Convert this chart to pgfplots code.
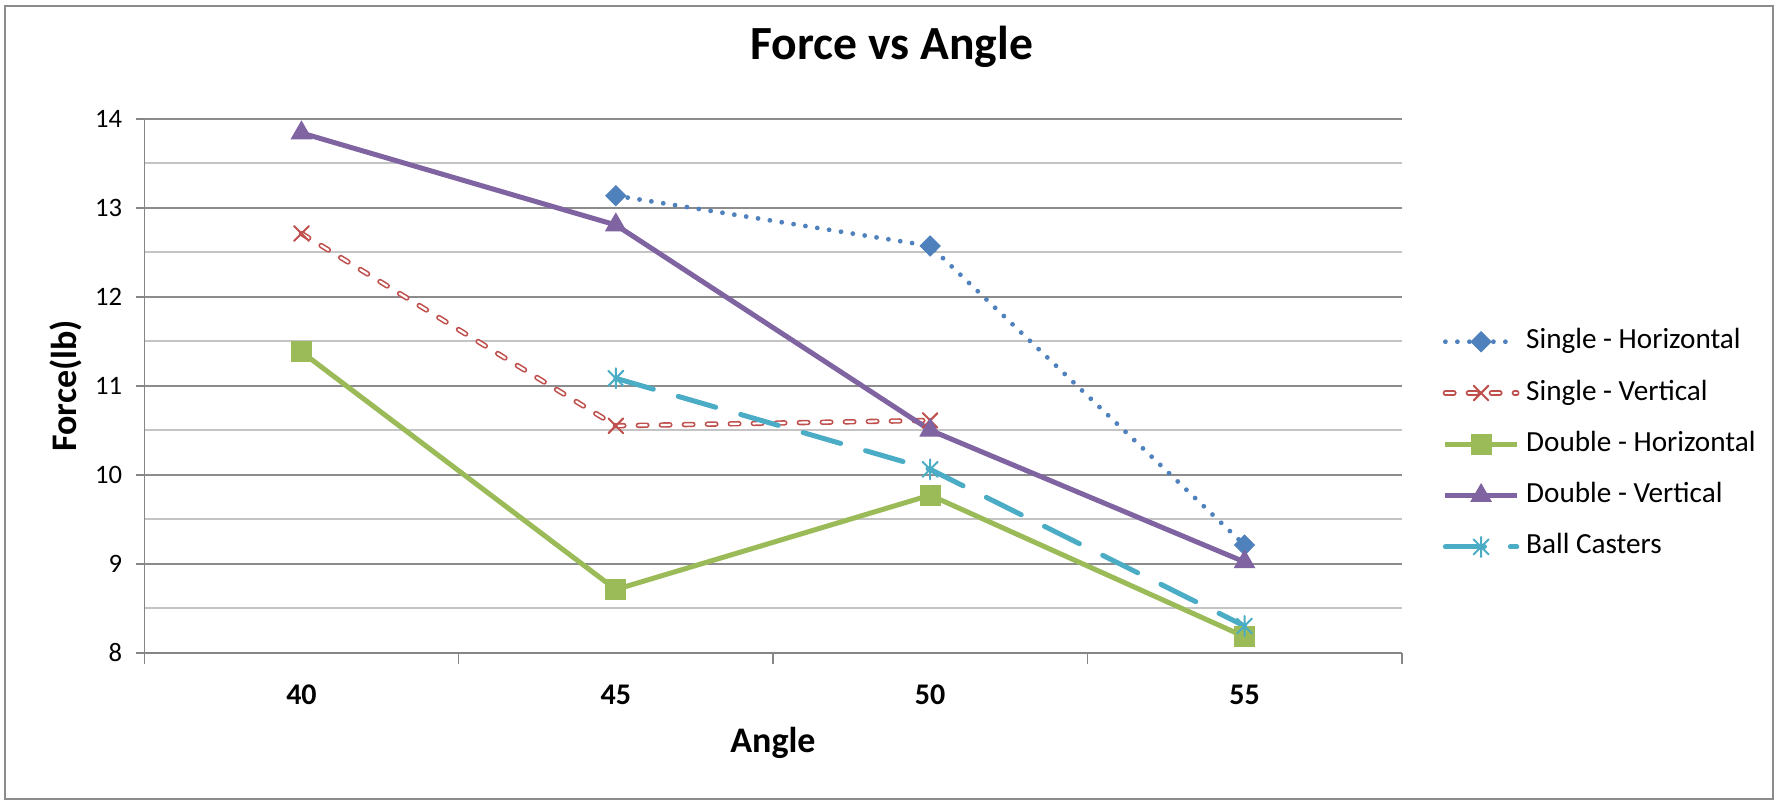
\documentclass[border=0pt]{standalone}
\usepackage{fontspec}
\setmainfont{Carlito}
\usepackage{pgfplots}
\pgfplotsset{compat=1.18}
\definecolor{sblue}{HTML}{4F81BD}
\definecolor{sred}{HTML}{C0504D}
\definecolor{sgreen}{HTML}{9BBB59}
\definecolor{spurple}{HTML}{8064A2}
\definecolor{saqua}{HTML}{4BACC6}
\definecolor{gridmaj}{HTML}{8C8C8C}
\definecolor{gridmin}{HTML}{C4C4C4}
\definecolor{axisgray}{HTML}{868686}
\definecolor{bordergray}{HTML}{8C8C8C}
\pgfdeclareplotmark{xstar}{%
  \pgfpathmoveto{\pgfqpoint{0pt}{\pgfplotmarksize}}%
  \pgfpathlineto{\pgfqpoint{0pt}{-\pgfplotmarksize}}%
  \pgfpathmoveto{\pgfqpoint{-.75\pgfplotmarksize}{-.75\pgfplotmarksize}}%
  \pgfpathlineto{\pgfqpoint{.75\pgfplotmarksize}{.75\pgfplotmarksize}}%
  \pgfpathmoveto{\pgfqpoint{-.75\pgfplotmarksize}{.75\pgfplotmarksize}}%
  \pgfpathlineto{\pgfqpoint{.75\pgfplotmarksize}{-.75\pgfplotmarksize}}%
  \pgfusepathqstroke}
\pgfplotsset{mylegend/.style={legend image code/.code={%
  \draw[mark repeat=2,mark phase=2] plot coordinates {(0pt,0pt) (17.85pt,0pt) (35.7pt,0pt)};}}}
\begin{document}
\begin{tikzpicture}
\useasboundingbox (0,0) rectangle (888.5pt,400pt);
\fill[white] (0,0) rectangle (888.5pt,400pt);
\draw[bordergray, line width=0.9pt] (2.5pt,0.5pt) rectangle (886.5pt,397pt);
\begin{axis}[
  at={(72.15pt,73.65pt)}, anchor=south west,
  scale only axis, width=628.7pt, height=267pt,
  xmin=-0.5, xmax=3.5, ymin=8, ymax=14,
  axis x line*=bottom, axis y line*=left,
  axis line style={axisgray, line width=0.8pt},
  tick style={axisgray, line width=0.8pt},
  tick align=outside,
  major tick length=4pt, minor tick length=5.5pt,
  xtick={0,1,2,3}, xticklabels={40,45,50,55},
  major x tick style={draw=none},
  minor xtick={-0.5,0.5,1.5,2.5,3.5},
  ytick={8,9,10,11,12,13,14}, minor y tick num=1,
  minor y tick style={draw=none},
  ymajorgrids, yminorgrids,
  major grid style={gridmaj, line width=0.8pt},
  minor grid style={gridmin, line width=0.8pt},
  /pgf/number format/assume math mode=true,
  yticklabel style={font=\fontsize{13.3}{16}\selectfont},
  yticklabel shift=3.6pt,
  xticklabel style={font=\bfseries\fontsize{15}{18}\selectfont, anchor=base, yshift=-22pt},
  title={Force vs Angle},
  title style={font=\bfseries\fontsize{23.8}{28}\selectfont, at={(axis description cs:0.5946,1.088)}, anchor=base},
  xlabel={Angle},
  xlabel style={font=\bfseries\fontsize{18}{22}\selectfont, at={(axis description cs:0.5,-0.1878)}, anchor=base},
  ylabel={Force(lb)},
  ylabel style={font=\bfseries\fontsize{18}{22}\selectfont, at={(axis description cs:-0.0543,0.5)}, anchor=base},
  legend cell align=left,
  legend style={draw=none, fill=none, inner sep=0pt, outer sep=0pt,
    at={(axis description cs:1.0326,0.6086)}, anchor=north west,
    font=\fontsize{14.6}{17}\selectfont, row sep=11.65pt, column sep=3.35pt,
    nodes={inner sep=0pt, text height=10.5pt, text depth=3.5pt}},
]
\addplot[mylegend, sblue, line width=2.4pt, line cap=round, dash pattern=on 0pt off 6pt,
  mark=diamond*, mark size=5pt, mark options={solid, fill=sblue, draw=sblue, line width=0.5pt, xscale=1.33}]
  coordinates {(1,13.135) (2,12.57) (3,9.21)};
\addlegendentry{Single - Horizontal}
\addplot[mylegend, sred, line width=0.8pt, double=white, double distance=1.1pt, line cap=round, dash pattern=on 4.25pt off 7.25pt,
  mark=x, mark size=5.2pt, mark options={solid, double=none, draw=sred, line width=1pt}]
  coordinates {(0,12.71) (1,10.55) (2,10.61)};
\addlegendentry{Single - Vertical}
\addplot[mylegend, sgreen, line width=2.5pt,
  mark=square*, mark size=5pt, mark options={solid, fill=sgreen, draw=sgreen, line width=0.5pt}]
  coordinates {(0,11.38) (1,8.71) (2,9.77) (3,8.18)};
\addlegendentry{Double - Horizontal}
\addplot[mylegend, spurple, line width=2.5pt,
  mark=triangle*, mark size=5.8pt, mark options={solid, fill=spurple, draw=spurple, line width=0.5pt}]
  coordinates {(0,13.84) (1,12.806) (2,10.50) (3,9.02)};
\addlegendentry{Double - Vertical}
\addplot[mylegend, saqua, line width=2.5pt, line cap=round, dash pattern=on 19.5pt off 13pt,
  mark=xstar, mark size=5pt, mark options={solid, draw=saqua, line width=1pt}]
  coordinates {(1,11.083) (2,10.06) (3,8.30)};
\addlegendentry{Ball Casters}
\end{axis}
\end{tikzpicture}
\end{document}
